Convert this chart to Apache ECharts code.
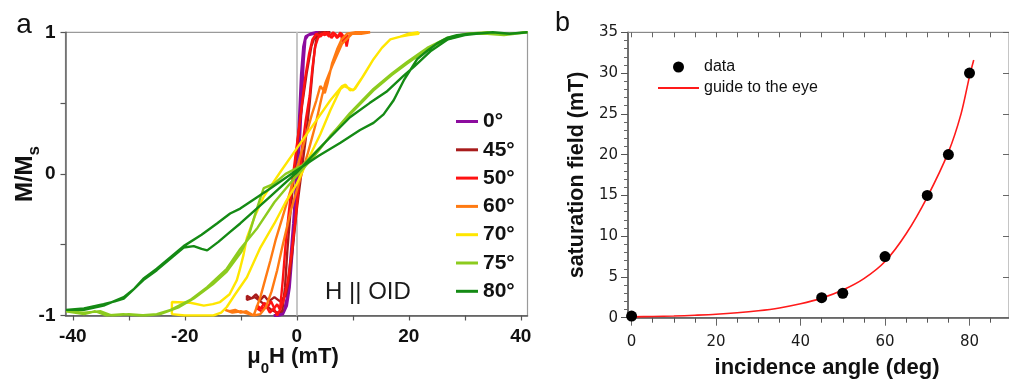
<!DOCTYPE html>
<html>
<head>
<meta charset="utf-8">
<script src="https://cdn.jsdelivr.net/npm/echarts@6/dist/echarts.min.js"></script>
<style>
  html, body { margin: 0; padding: 0; background: #fff; }
  #chart { width: 1009px; height: 381px; }
</style>
</head>
<body>
<div id="chart"></div>
<script>
// panel a: hysteresis loops, [mu0H (mT), M/Ms], down branch then up branch
const angleNames = ['0°', '45°', '50°', '60°', '70°', '75°', '80°']
const angleColors = ['#8c0c9e', '#a81c1c', '#ff1212', '#ff7a12', '#ffe600', '#8ccb1e', '#148a14']

const loop0 = [[5,1],[4,0.99],[3,0.99],[2,0.98],[1.5,0.95],[1.2,0.8],[0.9,0.55],[0.6,0.3],[0.2,0.05],[-0.3,-0.25],[-0.8,-0.55],[-1.3,-0.8],[-1.8,-0.93],[-2.5,-0.99],[-3.2,-1],[-4.1,-1],
  [-3,-0.99],[-2.2,-0.96],[-1.6,-0.85],[-1.1,-0.6],[-0.6,-0.35],[0,0],[0.4,0.35],[0.8,0.7],[1.2,0.9],[1.6,0.97],[2.5,0.99],[3.5,1],[5,1]]

const loop45 = [[6,1],[5,0.99],[4,1],[3.6,0.97],[3.2,0.88],[2.8,0.72],[2.3,0.5],[1.6,0.25],[0.8,0],[0,-0.25],[-0.8,-0.55],[-1.4,-0.75],[-2,-0.86],[-3,-0.9],[-4,-0.87],[-5,-0.9],[-5.8,-0.86],[-6.5,-0.89],[-7.3,-0.85],[-8.1,-0.88],[-8.9,-0.86],
  [-8.9,-0.89],[-7.5,-0.87],[-6.5,-0.9],[-5.5,-0.93],[-4.5,-0.96],[-3.5,-0.98],[-2.6,-0.97],[-2.1,-0.8],[-1.7,-0.55],[-1.2,-0.3],[-0.6,-0.05],[0.2,0.25],[1,0.5],[1.8,0.72],[2.6,0.9],[3.3,0.98],[4.5,1],[6,1]]

const loop50 = [[9.2,0.96],[8.9,0.9],[8.6,0.97],[8.2,0.93],[7.8,1],[7.3,0.97],[6.8,0.99],[6.2,0.96],[5.6,1],[5,0.98],[4.4,0.99],[3.8,0.96],[3.3,0.9],[2.8,0.75],[2.3,0.55],[1.6,0.38],[1,0.2],[0.4,-0.05],[-0.3,-0.35],[-1,-0.58],[-1.7,-0.78],[-2.4,-0.9],[-3,-0.96],[-3.5,-0.92],[-4,-0.95],[-4.6,-0.9],[-5.2,-0.94],[-5.8,-0.91],[-6.4,-0.95],[-7.1,-0.93],
  [-7.1,-0.95],[-6.3,-0.97],[-5.5,-0.93],[-4.8,-0.98],[-4.1,-0.95],[-3.5,-1],[-3,-0.96],[-2.5,-0.75],[-2,-0.5],[-1.5,-0.3],[-0.8,-0.05],[0,0.2],[0.8,0.45],[1.5,0.68],[2.2,0.85],[2.8,0.95],[3.5,0.99],[4.2,0.97],[5,1],[5.8,0.97],[6.5,1],[7.2,0.96],[8,0.99],[8.7,0.95],[9.2,0.98]]

const loop60 = [[13.1,1],[11.5,0.99],[9.9,0.99],[8.1,0.92],[6.3,0.76],[5.1,0.64],[4.5,0.55],[3.3,0.34],[2,0.15],[0.5,-0.05],[-1,-0.25],[-2.5,-0.5],[-3.5,-0.68],[-4.5,-0.83],[-5.5,-0.94],[-6.5,-0.99],[-7.7,-1],[-9,-0.97],[-10,-0.98],[-11,-0.96],[-12,-0.97],[-12.8,-0.96],
  [-12.8,-0.97],[-11.5,-0.98],[-10,-0.97],[-8.5,-0.99],[-7.7,-1],[-6.5,-0.87],[-5.6,-0.74],[-4.7,-0.61],[-3.8,-0.47],[-2.5,-0.3],[-1,-0.1],[0.3,0.08],[1.5,0.25],[2.7,0.42],[3.5,0.52],[4.2,0.62],[4.6,0.6],[5,0.57],[5.5,0.64],[6.3,0.78],[7.2,0.88],[8,0.95],[9,0.99],[10.5,1],[12,1],[13.1,1]]

const loop70 = [[21.75,1],[20,0.99],[18.5,0.97],[16.7,0.95],[15.2,0.89],[13.7,0.81],[12,0.7],[10.4,0.6],[9.5,0.59],[8.7,0.63],[8.1,0.62],[6,0.52],[3,0.35],[0,0.18],[-3,0.01],[-5.9,-0.16],[-7.5,-0.3],[-8.9,-0.45],[-9.5,-0.57],[-10.2,-0.68],[-10.7,-0.75],[-12,-0.85],[-13.7,-0.905],[-15,-0.92],[-16.6,-0.93],[-19,-0.91],[-22.3,-0.905],
  [-22.3,-0.99],[-20,-1],[-18.4,-1],[-14.9,-1],[-13.5,-0.98],[-12.5,-0.94],[-11,-0.85],[-8.9,-0.73],[-6.5,-0.52],[-4,-0.35],[-2,-0.2],[0,-0.07],[2,0.1],[4.2,0.28],[6,0.45],[7.8,0.6],[8.5,0.62],[10.1,0.59],[11.5,0.67],[13.7,0.81],[15.2,0.89],[16.7,0.95],[18.5,0.97],[20,0.98],[21.75,0.99],[21.75,1]]

const loop75 = [[41.2,1],[37,0.985],[34,1],[30.4,0.99],[26.8,0.96],[23.3,0.89],[19.7,0.79],[17,0.71],[13.7,0.6],[9.5,0.43],[5,0.22],[1,0.06],[-2,0],[-4.1,-0.07],[-5.9,-0.1],[-6.5,-0.17],[-7.4,-0.28],[-8.6,-0.44],[-9.9,-0.55],[-12.5,-0.69],[-15,-0.78],[-18.4,-0.88],[-21,-0.94],[-24.4,-0.99],[-27,-1],[-30,-0.99],[-33,-1],[-35,-0.97],[-38,-0.98],[-41.2,-0.97],
  [-41.2,-0.98],[-38,-0.99],[-36,-0.97],[-34,-1],[-31,-0.99],[-28,-1],[-25,-0.99],[-22.5,-0.96],[-19,-0.89],[-16,-0.8],[-12.5,-0.67],[-10.1,-0.53],[-7,-0.38],[-4,-0.2],[-0.6,-0.04],[3,0.12],[6,0.27],[9.5,0.42],[13.7,0.59],[17,0.7],[19.7,0.78],[23.3,0.88],[26.8,0.95],[30.4,0.99],[34,0.99],[37,0.98],[41.2,1]]

const loop80 = [[41.2,1],[38,0.99],[35,1],[32,0.99],[30,0.98],[27,0.95],[24,0.87],[21,0.76],[19,0.69],[16,0.58],[13,0.5],[9.5,0.4],[5,0.22],[0,0.01],[-5,-0.17],[-10.1,-0.35],[-11.9,-0.41],[-14,-0.48],[-16,-0.54],[-17,-0.53],[-18.4,-0.51],[-20.2,-0.52],[-22.6,-0.6],[-25,-0.68],[-27.4,-0.75],[-29,-0.81],[-30.9,-0.88],[-32.5,-0.9],[-34.5,-0.92],[-38,-0.95],[-41.2,-0.96],
  [-41.2,-0.97],[-38,-0.96],[-34.5,-0.93],[-30.9,-0.87],[-29,-0.81],[-27.4,-0.74],[-25,-0.67],[-22.6,-0.59],[-20.2,-0.51],[-17,-0.43],[-14.25,-0.35],[-11.9,-0.28],[-10.1,-0.245],[-5,-0.11],[-0.6,0.01],[4,0.13],[7.8,0.22],[11.3,0.31],[13.7,0.36],[15.5,0.42],[17.3,0.52],[19.1,0.66],[21.5,0.81],[23.3,0.87],[25,0.92],[26.8,0.96],[28.6,0.98],[31,0.99],[35,1],[38,0.99],[41.2,1]]

const loops = [loop0, loop45, loop50, loop60, loop70, loop75, loop80]

// panel b: saturation field vs incidence angle
const pointAngle = [0, 45, 50, 60, 70, 75, 80]
const pointField = [0.2, 2.45, 3.0, 7.5, 15, 20, 30]
const guideAngle = [0, 5, 10, 15, 20, 25, 30, 35, 40, 45, 50, 55, 60, 65, 70, 75, 78, 80, 81]
const guideField = [0.1, 0.15, 0.2, 0.3, 0.42, 0.6, 0.85, 1.2, 1.7, 2.4, 3.4, 4.8, 6.9, 10.3, 14.8, 20.3, 25, 29.6, 31.6]

const aXLabels = [-40, -20, 0, 20, 40]
const aXTicks = [-40, -30, -20, -10, 0, 10, 20, 30, 40]
const bXLabels = [0, 20, 40, 60, 80]
const bXTicks = [0, 5, 10, 15, 20, 25, 30, 35, 40, 45, 50, 55, 60, 65, 70, 75, 80, 85]

const AR = 'Liberation Sans, Arial, sans-serif'
const DV = 'DejaVu Sans, Verdana, sans-serif'

const chart = echarts.init(document.getElementById('chart'), null, { renderer: 'canvas' })

const loopSeries = loops.map((d, i) => ({
  name: angleNames[i],
  type: 'line',
  xAxisIndex: 0,
  yAxisIndex: 0,
  data: d,
  symbol: 'none',
  showSymbol: false,
  color: angleColors[i],
  lineStyle: { width: i === 0 ? 2.8 : 2.4, color: angleColors[i] },
  z: 3 + i,
}))

const option = {
  animation: false,
  backgroundColor: '#fff',
  grid: [
    { left: 65.5, top: 32.3, width: 462, height: 283.2, show: true, borderColor: '#9a9a9a', borderWidth: 1.2 },
    { left: 628, top: 32.3, width: 381.5, height: 285.4, show: true, borderColor: '#8a8a8a', borderWidth: 1 },
  ],
  xAxis: [
    {
      type: 'value', gridIndex: 0, min: -41.3, max: 41.2,
      splitLine: { show: false },
      axisLine: { onZero: false, lineStyle: { color: '#555', width: 1.5 } },
      axisTick: { customValues: aXTicks, length: 5, lineStyle: { color: '#555', width: 1.2 } },
      axisLabel: { customValues: aXLabels, margin: 12, color: '#111', fontFamily: AR, fontWeight: 'bold', fontSize: 19 },
    },
    {
      type: 'value', gridIndex: 1, min: -0.85, max: 89.35,
      splitLine: { show: false },
      axisLine: { onZero: false, lineStyle: { color: '#555', width: 1.5 } },
      axisTick: { customValues: bXTicks, length: 5, lineStyle: { color: '#555' } },
      axisLabel: { customValues: bXLabels, margin: 17, color: '#1a1a1a', fontFamily: DV, fontSize: 15 },
    },
    {
      type: 'value', gridIndex: 1, position: 'top', min: -0.85, max: 89.35,
      splitLine: { show: false },
      axisLine: { onZero: false, lineStyle: { color: '#888', width: 1 } },
      axisTick: { inside: true, customValues: bXTicks, length: 5, lineStyle: { color: '#666' } },
      axisLabel: { show: false },
    },
    {
      type: 'value', gridIndex: 1, position: 'top', min: -0.85, max: 89.35,
      splitLine: { show: false },
      axisLine: { show: false },
      axisTick: { inside: true, customValues: bXLabels, length: 8, lineStyle: { color: '#666' } },
      axisLabel: { show: false },
    },
  ],
  yAxis: [
    {
      type: 'value', gridIndex: 0, min: -1, max: 1, interval: 0.5,
      splitLine: { show: false },
      axisLine: { show: true, onZero: false, lineStyle: { color: '#666', width: 1.5 } },
      axisTick: { show: true, length: 5, lineStyle: { color: '#555', width: 1.2 } },
      axisLabel: {
        margin: 10, color: '#111', fontFamily: AR, fontWeight: 'bold', fontSize: 19,
        formatter: (v) => (Math.abs(v) === 0.5 ? '' : String(v)),
      },
    },
    {
      type: 'value', gridIndex: 1, min: 0, max: 35, interval: 5,
      splitLine: { show: false },
      axisLine: { show: true, onZero: false, lineStyle: { color: '#555', width: 1.5 } },
      axisTick: { show: true, length: 7, lineStyle: { color: '#555' } },
      minorTick: { show: true, splitNumber: 5, length: 4, lineStyle: { color: '#666' } },
      axisLabel: { margin: 10, color: '#1a1a1a', fontFamily: DV, fontSize: 15 },
    },
    {
      type: 'value', gridIndex: 1, position: 'right', min: 0, max: 35, interval: 5,
      splitLine: { show: false },
      axisLine: { show: true, onZero: false, lineStyle: { color: '#888' } },
      axisTick: { show: true, inside: true, length: 6, lineStyle: { color: '#666' } },
      minorTick: { show: false },
      axisLabel: { show: false },
    },
  ],
  legend: [
    {
      data: angleNames,
      orient: 'vertical',
      left: 451,
      top: 106,
      icon: 'rect',
      itemWidth: 22,
      itemHeight: 3,
      itemGap: 7.3,
      textStyle: { fontFamily: AR, fontWeight: 'bold', fontSize: 21, lineHeight: 21, color: '#111' },
      selectedMode: false,
    },
    {
      data: ['data', { name: 'guide to the eye', itemStyle: { opacity: 0 } }],
      orient: 'vertical',
      left: 652,
      top: 54,
      itemWidth: 41,
      itemHeight: 11,
      itemGap: 5,
      textStyle: { fontFamily: AR, fontSize: 16, lineHeight: 16, color: '#111' },
      selectedMode: false,
    },
  ],
  graphic: [
    { type: 'text', x: 24, y: 25.5, style: { text: 'a', font: 'normal 28px ' + AR, fill: '#111', align: 'center', verticalAlign: 'middle' } },
    { type: 'text', x: 562.5, y: 24, style: { text: 'b', font: 'normal 27px ' + AR, fill: '#111', align: 'center', verticalAlign: 'middle' } },
    { type: 'text', x: 325, y: 292, z: 20, style: { text: 'H || OID', font: 'normal 24px ' + AR, fill: '#1a1a1a', align: 'left', verticalAlign: 'middle' } },
    {
      type: 'text', x: 293, y: 357,
      style: {
        text: '{m|μ}{s|0}{m|H (mT)}', align: 'center', verticalAlign: 'middle', fill: '#111',
        rich: {
          m: { fontFamily: AR, fontWeight: 'bold', fontSize: 22, lineHeight: 38, fill: '#111' },
          s: { fontFamily: AR, fontWeight: 'bold', fontSize: 15, verticalAlign: 'bottom', fill: '#111' },
        },
      },
    },
    {
      type: 'text', x: 25, y: 174, rotation: Math.PI / 2,
      style: {
        text: '{m|M/M}{s|s}', align: 'center', verticalAlign: 'middle', fill: '#111',
        rich: {
          m: { fontFamily: AR, fontWeight: 'bold', fontSize: 24, lineHeight: 35, fill: '#111' },
          s: { fontFamily: AR, fontWeight: 'bold', fontSize: 17, verticalAlign: 'bottom', fill: '#111' },
        },
      },
    },
    { type: 'text', x: 577, y: 175, rotation: Math.PI / 2, style: { text: 'saturation field (mT)', font: 'bold 21.5px ' + AR, fill: '#111', align: 'center', verticalAlign: 'middle' } },
    { type: 'text', x: 827, y: 368, style: { text: 'incidence angle (deg)', font: 'bold 22px ' + AR, fill: '#111', align: 'center', verticalAlign: 'middle' } },
  ],
  series: [
    {
      name: 'zero',
      type: 'line',
      xAxisIndex: 0,
      yAxisIndex: 0,
      data: [],
      z: 1,
      markLine: {
        silent: true,
        symbol: 'none',
        z: 1,
        label: { show: false },
        lineStyle: { color: '#c6c6c6', width: 2, type: 'solid' },
        data: [{ xAxis: 0 }],
      },
    },
    ...loopSeries,
    {
      name: 'guide to the eye',
      type: 'line',
      xAxisIndex: 1,
      yAxisIndex: 1,
      data: guideAngle.map((a, i) => [a, guideField[i]]),
      smooth: 0.3,
      symbol: 'none',
      showSymbol: false,
      color: '#ff1a1a',
      lineStyle: { color: '#ff1a1a', width: 1.6 },
      z: 3,
    },
    {
      name: 'data',
      type: 'scatter',
      xAxisIndex: 1,
      yAxisIndex: 1,
      data: pointAngle.map((a, i) => [a, pointField[i]]),
      symbol: 'circle',
      symbolSize: 11,
      itemStyle: { color: '#000', opacity: 1 },
      z: 4,
    },
  ],
}

chart.setOption(option)
</script>
</body>
</html>
